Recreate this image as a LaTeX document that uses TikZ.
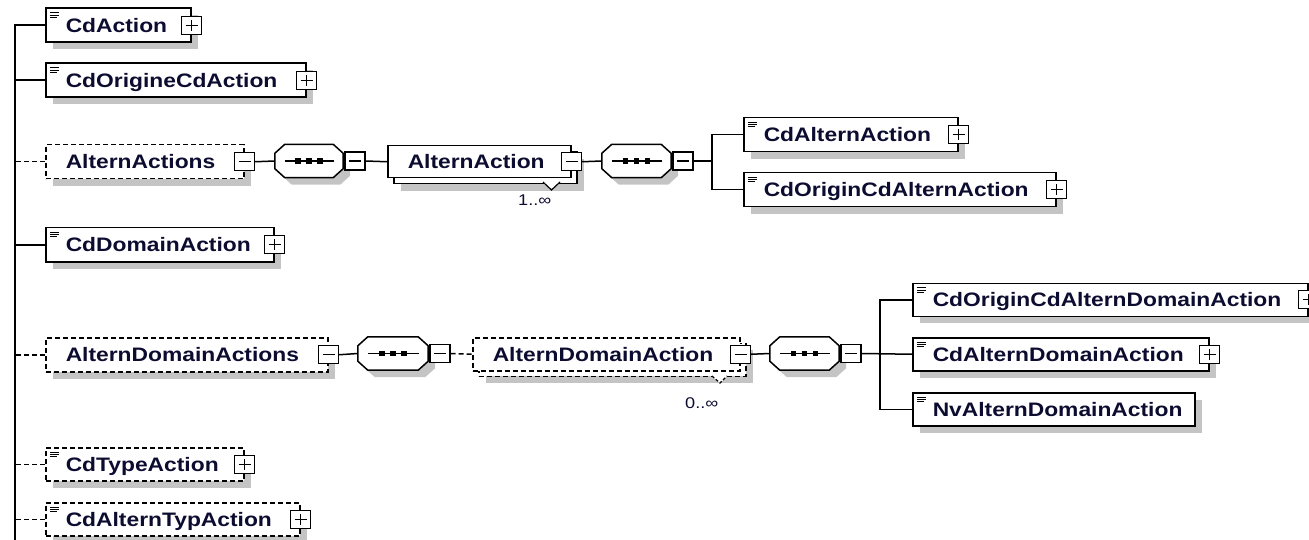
\documentclass[tikz,border=0pt]{standalone}
\usepackage{fontspec}
\usetikzlibrary{shadows}
\newfontfamily\labf{Liberation Sans}[FakeStretch=1.17]
\definecolor{txt}{HTML}{0C0C30}
\definecolor{shg}{HTML}{C4C4C4}
\newcommand\octo[1]{([xshift=10pt]#1.north west) -- ([xshift=-10pt]#1.north east) -- ([yshift=-9pt]#1.north east) -- ([yshift=9pt]#1.south east) -- ([xshift=-10pt]#1.south east) -- ([xshift=10pt]#1.south west) -- ([yshift=9pt]#1.south west) -- ([yshift=-9pt]#1.north west) -- cycle}
\newcommand\seqnode[4]{%
  \node[seqbox, minimum width=#4pt] (#1) at (#2,#3) {};
  \fill[shg, transform canvas={shift={(7pt,-7pt)}}] \octo{#1};
  \draw[line width=1.5pt, fill=white] \octo{#1};
  \draw[line width=1.3pt] ([xshift=10pt]#1.west) -- ([xshift=-9pt]#1.east);
  \foreach \d in {-11,0,11} \fill ([xshift=\d pt]#1.center) +(-2.6pt,-2.6pt) rectangle +(2.6pt,2.6pt);
  \node[minus, anchor=west] (#1m) at ([xshift=1pt]#1.east) {};
}
\tikzset{
  conn/.style={line width=1.5pt},
  oconn/.style={line width=1.5pt, dash pattern=on 5pt off 3pt},
  shad/.style={drop shadow={shadow xshift=7pt, shadow yshift=-7pt, fill=shg, opacity=1}},
  elem/.style={draw, fill=white, line width=1.5pt, anchor=north west, inner xsep=20pt, inner ysep=0pt,
    align=left, font=\labf\bfseries\fontsize{19.5}{22}\selectfont, text=txt,
    text height=14pt, text depth=0pt, minimum height=34pt},
  opt/.style={dash pattern=on 5pt off 3pt},
  icon/.style={path picture={\draw[solid, line width=0.8pt]
      ([xshift=4pt,yshift=-4.5pt]path picture bounding box.north west) -- ++(9pt,0pt)
      ([xshift=4pt,yshift=-6.8pt]path picture bounding box.north west) -- ++(9pt,0pt)
      ([xshift=4pt,yshift=-9.1pt]path picture bounding box.north west) -- ++(7pt,0pt);}},
  pmb/.style={draw, solid, fill=white, line width=1.4pt, minimum width=20pt, minimum height=18pt, inner sep=0pt},
  minus/.style={pmb, path picture={\draw[solid, line width=1.2pt]
      ([xshift=4pt]path picture bounding box.west) -- ([xshift=-4pt]path picture bounding box.east);}},
  plus/.style={pmb, path picture={\draw[solid, line width=1.2pt]
      ([xshift=4pt]path picture bounding box.west) -- ([xshift=-4pt]path picture bounding box.east)
      ([yshift=-3.5pt]path picture bounding box.north) -- ([yshift=3.5pt]path picture bounding box.south);}},
  seqbox/.style={rectangle, inner sep=0pt, minimum height=33pt},
  card/.style={anchor=base west, inner sep=0pt, text=txt, font=\labf\fontsize{15.5}{18}\selectfont},
  notch/.style={line width=1.2pt, fill=white}
}
\begin{document}
\begin{tikzpicture}[x=1pt,y=-1pt]
\useasboundingbox (0,0) rectangle (1309,540);
\coordinate (tb) at (15,540);
\coordinate (b1) at (712,161);
\coordinate (b2) at (880,353.5);

% left column
\node[elem,icon,shad,minimum width=145pt,text width=105pt] (cda) at (45,7.5) {CdAction};
\node[plus] (cdap) at (cda.east) {};
\node[elem,icon,shad,minimum width=260pt,text width=220pt] (cdo) at (45,62.5) {CdOrigineCdAction};
\node[plus] (cdop) at (cdo.east) {};
\node[elem,opt,shad,minimum width=198pt,text width=158pt] (aas) at (45,144) {AlternActions};
\node[minus] (aasp) at (aas.east) {};
\node[elem,icon,shad,minimum width=228pt,text width=188pt] (cdd) at (45,227) {CdDomainAction};
\node[plus] (cddp) at (cdd.east) {};
\node[elem,opt,shad,minimum width=282pt,text width=242pt] (ads) at (45,337) {AlternDomainActions};
\node[minus] (adsp) at (ads.east) {};
\node[elem,opt,icon,shad,minimum width=198pt,text width=158pt,minimum height=33pt] (cdt) at (45,447) {CdTypeAction};
\node[plus] (cdtp) at (cdt.east) {};
\node[elem,opt,icon,shad,minimum width=254pt,text width=214pt,minimum height=33pt] (cdat) at (45,502) {CdAlternTypAction};
\node[plus] (cdatp) at (cdat.east) {};

% AlternActions row
\seqnode{s1}{309}{161}{68}
\node[elem,shad,minimum width=183pt,text width=143pt,minimum height=32pt] (aab) at (393,151) {};
\node[elem,minimum width=183pt,text width=143pt,minimum height=32pt] (aa) at (387,145) {AlternAction};
\node[minus] (aap) at (aa.east) {};
\draw[notch] (543,182) -- (551.5,190) -- (560,182);
\node[card] (c1) at (518,206) {1..∞};
\seqnode{s2}{636.5}{161}{69}
\node[elem,icon,shad,minimum width=214pt,text width=174pt] (cdaa) at (743,117) {CdAlternAction};
\node[plus] (cdaap) at (cdaa.east) {};
\node[elem,icon,shad,minimum width=312pt,text width=272pt] (cdoa) at (743,172) {CdOriginCdAlternAction};
\node[plus] (cdoap) at (cdoa.east) {};

% AlternDomainActions row
\seqnode{s3}{393}{353.5}{70}
\node[elem,opt,shad,minimum width=267pt,text width=227pt,minimum height=33pt] (adb) at (478,342.5) {};
\node[elem,opt,minimum width=267pt,text width=227pt,minimum height=33pt] (ad) at (472,337) {AlternDomainAction};
\node[minus] (adp) at (ad.east) {};
\draw[notch, dash pattern=on 3pt off 2pt] (712,376) -- (720,383) -- (727,376);
\node[card] (c2) at (685,408) {0..∞};
\seqnode{s4}{804.5}{353.5}{69}
\node[elem,icon,shad,minimum width=395pt,text width=355pt,minimum height=33pt] (cdoad) at (912,282.5) {CdOriginCdAlternDomainAction};
\node[plus] (cdoadp) at (cdoad.east) {};
\node[elem,icon,shad,minimum width=296pt,text width=256pt,minimum height=33pt] (cdad) at (912,337) {CdAlternDomainAction};
\node[plus] (cdadp) at (cdad.east) {};
\node[elem,icon,shad,minimum width=282pt,text width=242pt,minimum height=33pt] (nvad) at (912,392) {NvAlternDomainAction};

% connectors
\draw[conn] (cda.west) -| (tb);
\draw[conn] (cdo.west) -- (cdo.west -| tb);
\draw[oconn] (aas.west) -- (aas.west -| tb);
\draw[conn] (cdd.west) -- (cdd.west -| tb);
\draw[oconn] (ads.west) -- (ads.west -| tb);
\draw[oconn] (cdt.west) -- (cdt.west -| tb);
\draw[oconn] (cdat.west) -- (cdat.west -| tb);
\draw[conn] (aasp.east) -- (s1.west);
\draw[conn] (s1m.east) -- (aa.west);
\draw[conn] (aap.east) -- (s2.west);
\draw[conn] (s2m.east) -- (b1);
\draw[conn] (cdaa.west) -| (b1) |- (cdoa.west);
\draw[conn] (adsp.east) -- (s3.west);
\draw[oconn] (s3m.east) -- (ad.west);
\draw[conn] (adp.east) -- (s4.west);
\draw[conn] (s4m.east) -- (cdad.west);
\draw[conn] (cdoad.west) -| (b2) |- (nvad.west);
\end{tikzpicture}
\end{document}
